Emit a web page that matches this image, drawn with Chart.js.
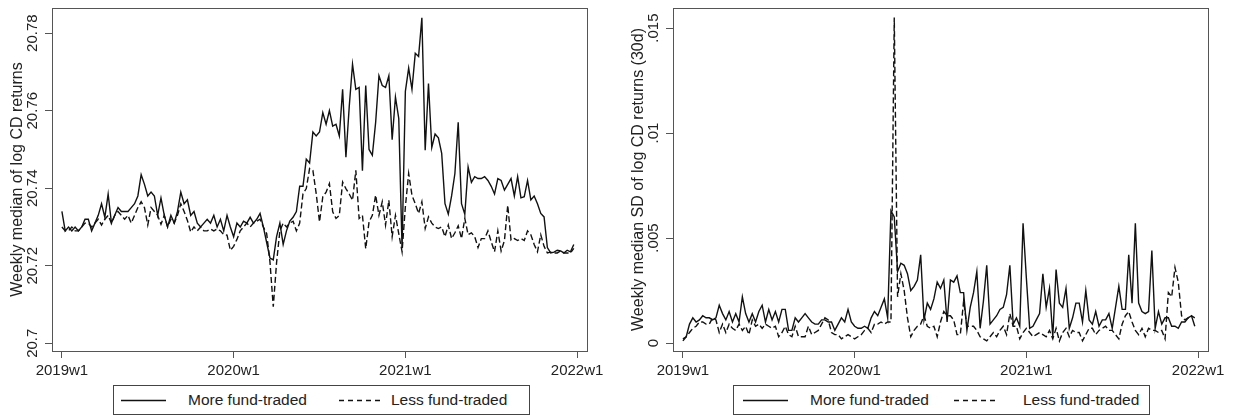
<!DOCTYPE html>
<html>
<head>
<meta charset="utf-8">
<title>Weekly CD returns</title>
<script src="https://cdn.jsdelivr.net/npm/chart.js@4"></script>
<style>
  body { margin: 0; background: #fff; width: 1233px; height: 417px; position: relative; overflow: hidden;
         font-family: "Liberation Sans", Arial, sans-serif; }
  .chartframe { position: absolute; top: 0; }
  .legendbox { position: absolute; top: 385px; height: 30px; width: 417px; border: 1px solid #444;
               box-sizing: border-box; font-size: 15.5px; color: #222; }
  .legendbox span, .legendbox svg { position: absolute; }
  .legendbox span { top: 5px; }
  .legendbox svg { top: 13px; }
</style>
</head>
<body>
  <div class="chartframe" style="left:0px"><canvas id="chartMedian" width="610" height="385"></canvas></div>
  <div class="chartframe" style="left:621px"><canvas id="chartSd" width="610" height="385"></canvas></div>

  <div class="legendbox" style="left:113px">
    <svg style="left:7px" width="45" height="3"><line x1="0" y1="1.5" x2="45" y2="1.5" stroke="#111" stroke-width="1.4"/></svg>
    <span style="left:74px">More fund-traded</span>
    <svg style="left:225px" width="41" height="3"><line x1="0" y1="1.5" x2="41" y2="1.5" stroke="#111" stroke-width="1.4" stroke-dasharray="5,4"/></svg>
    <span style="left:277px">Less fund-traded</span>
  </div>
  <div class="legendbox" style="left:733px">
    <svg style="left:9px" width="45" height="3"><line x1="0" y1="1.5" x2="45" y2="1.5" stroke="#111" stroke-width="1.4"/></svg>
    <span style="left:76px">More fund-traded</span>
    <svg style="left:220px" width="45" height="3"><line x1="0" y1="1.5" x2="45" y2="1.5" stroke="#111" stroke-width="1.4" stroke-dasharray="5,4"/></svg>
    <span style="left:289px">Less fund-traded</span>
  </div>

<script>
//------------------------------------------------------------------------------
// data (weeks 0..155 = 2019w1 .. 2021w52)
//------------------------------------------------------------------------------
const tickWeeks = [0, 52, 104, 156];
const tickLabels = ['2019w1', '2020w1', '2021w1', '2022w1'];

const medTicks = [20.7, 20.72, 20.74, 20.76, 20.78];
const medTickLabels = ['20.7', '20.72', '20.74', '20.76', '20.78'];
const sdTicks = [0, 0.005, 0.01, 0.015];
const sdTickLabels = ['0', '.005', '.01', '.015'];

// weekly median of log CD returns
const medMore = [20.734,20.729,20.730,20.729,20.730,20.729,20.730,20.732,20.732,20.729,
  20.731,20.733,20.736,20.7325,20.7385,20.731,20.733,20.735,20.734,20.734,
  20.734,20.735,20.736,20.738,20.7435,20.741,20.738,20.739,20.738,20.733,
  20.7375,20.733,20.730,20.733,20.731,20.734,20.739,20.736,20.737,20.733,
  20.734,20.731,20.730,20.731,20.732,20.731,20.733,20.730,20.732,20.729,
  20.733,20.730,20.7275,20.731,20.730,20.7315,20.731,20.7325,20.731,20.732,
  20.7335,20.730,20.726,20.722,20.7215,20.7275,20.731,20.7255,20.729,20.7315,
  20.7325,20.734,20.7405,20.7405,20.7475,20.7465,20.7545,20.7535,20.7545,20.7595,
  20.7565,20.760,20.756,20.7565,20.7535,20.7655,20.748,20.761,20.772,20.7655,
  20.766,20.7445,20.7665,20.750,20.7485,20.757,20.769,20.7665,20.766,20.769,
  20.7525,20.7635,20.758,20.7245,20.765,20.771,20.7655,20.7748,20.774,20.784,
  20.7498,20.767,20.7505,20.754,20.753,20.749,20.736,20.7333,20.738,20.7438,
  20.757,20.736,20.7333,20.7455,20.7415,20.743,20.7425,20.7425,20.743,20.742,
  20.7405,20.7385,20.7425,20.742,20.7395,20.741,20.7425,20.738,20.743,20.7375,
  20.7378,20.742,20.737,20.738,20.736,20.7335,20.7326,20.7247,20.7233,20.7235,
  20.724,20.7238,20.7233,20.724,20.7236,20.7255];

const medLess = [20.730,20.729,20.729,20.730,20.729,20.729,20.730,20.731,20.731,20.730,
  20.731,20.732,20.7305,20.732,20.733,20.731,20.733,20.734,20.733,20.732,
  20.733,20.731,20.733,20.735,20.7365,20.735,20.7305,20.735,20.734,20.733,
  20.7307,20.733,20.730,20.732,20.731,20.733,20.736,20.734,20.7317,20.7287,
  20.730,20.729,20.730,20.729,20.729,20.7295,20.729,20.7295,20.729,20.728,
  20.7279,20.724,20.725,20.7268,20.729,20.730,20.731,20.730,20.731,20.7315,
  20.732,20.730,20.7283,20.721,20.7094,20.7208,20.729,20.731,20.730,20.731,
  20.7315,20.729,20.731,20.7386,20.7399,20.7451,20.7446,20.7386,20.7313,20.7378,
  20.739,20.7412,20.7339,20.7322,20.733,20.7416,20.7399,20.7385,20.7369,20.7446,
  20.7322,20.733,20.7244,20.7313,20.733,20.7382,20.733,20.7365,20.7305,20.7369,
  20.7275,20.733,20.7283,20.7236,20.7352,20.7438,20.7382,20.736,20.7335,20.7365,
  20.7296,20.7326,20.731,20.730,20.7296,20.730,20.7275,20.7305,20.727,20.7285,
  20.7303,20.727,20.7322,20.728,20.7285,20.7275,20.7247,20.727,20.727,20.729,
  20.7262,20.7236,20.729,20.7238,20.7265,20.7356,20.7266,20.727,20.7265,20.727,
  20.7265,20.729,20.728,20.7255,20.7236,20.728,20.725,20.7233,20.7235,20.7233,
  20.7233,20.7238,20.7233,20.7233,20.7233,20.7245];

// weekly median SD of log CD returns (30d)
const sdMore = [0.0002,0.0003,0.0009,0.0012,0.0010,0.0011,0.0013,0.0012,0.0012,0.0011,
  0.0012,0.0018,0.0014,0.0011,0.0015,0.0010,0.0014,0.0010,0.0022,0.0014,
  0.0010,0.0014,0.0010,0.0015,0.0018,0.0010,0.0016,0.0011,0.0015,0.0010,
  0.0016,0.0016,0.0006,0.0006,0.0012,0.0010,0.0012,0.0014,0.0012,0.0010,
  0.0009,0.0009,0.0011,0.0011,0.0010,0.0010,0.0006,0.0009,0.0012,0.0010,
  0.0016,0.0010,0.0008,0.0007,0.0007,0.0008,0.0007,0.0012,0.0015,0.0013,
  0.0017,0.0021,0.0012,0.0063,0.0060,0.0034,0.0038,0.0037,0.0033,0.0025,
  0.0027,0.0030,0.0042,0.0011,0.0019,0.0016,0.0021,0.0029,0.0026,0.0030,
  0.0010,0.0030,0.0029,0.0032,0.0024,0.0024,0.0006,0.0017,0.0024,0.0034,
  0.0007,0.0020,0.0037,0.0009,0.0011,0.0013,0.0016,0.0017,0.0023,0.0037,
  0.0009,0.0012,0.0008,0.0057,0.0031,0.0007,0.0008,0.0011,0.0014,0.0033,
  0.0017,0.0026,0.0003,0.0035,0.0019,0.0017,0.0026,0.0007,0.0012,0.0019,
  0.0019,0.0010,0.0025,0.0011,0.0009,0.0015,0.0008,0.0011,0.0011,0.0014,
  0.0007,0.0017,0.0027,0.0016,0.0016,0.0042,0.0019,0.0057,0.0019,0.0015,
  0.0014,0.0015,0.0044,0.0007,0.0015,0.0009,0.0012,0.0012,0.0008,0.0008,
  0.0007,0.0010,0.0010,0.0012,0.0013,0.0008];

const sdLess = [0.0001,0.0003,0.0005,0.0007,0.0008,0.0010,0.0010,0.0009,0.0009,0.0012,
  0.0011,0.0005,0.0009,0.0005,0.0009,0.0007,0.0006,0.0009,0.0006,0.0008,
  0.0004,0.0011,0.0008,0.0009,0.0007,0.0009,0.0008,0.0007,0.0008,0.0003,
  0.0005,0.0008,0.0004,0.0003,0.0008,0.0003,0.0003,0.0003,0.0008,0.0004,
  0.0005,0.0006,0.0009,0.0012,0.0011,0.0005,0.0004,0.0004,0.0002,0.0003,
  0.0004,0.0003,0.0002,0.0003,0.0004,0.0006,0.0007,0.0005,0.0009,0.0009,
  0.0010,0.0009,0.0010,0.0010,0.0155,0.0022,0.0033,0.0025,0.0012,0.0003,
  0.0006,0.0008,0.0009,0.0013,0.0008,0.0007,0.0008,0.0003,0.0010,0.0015,
  0.0013,0.0013,0.0011,0.0004,0.0004,0.0020,0.0008,0.0008,0.0008,0.0006,
  0.0003,0.0002,0.0001,0.0003,0.0005,0.0003,0.0006,0.0008,0.0004,0.0014,
  0.0008,0.0008,0.0002,0.0005,0.0007,0.0005,0.0003,0.0004,0.0005,0.0004,
  0.0003,0.0006,0.0002,0.0007,0.0001,0.0005,0.0007,0.0003,0.0006,0.0005,
  0.0005,0.0001,0.0004,0.0007,0.0007,0.0004,0.0006,0.0007,0.0008,0.0006,
  0.0006,0.0004,0.0002,0.0009,0.0013,0.0015,0.0010,0.0006,0.0004,0.0007,
  0.0003,0.0007,0.0006,0.0006,0.0005,0.0006,0.0002,0.0024,0.0022,0.0036,
  0.0029,0.0013,0.0011,0.0012,0.0013,0.0012];

//------------------------------------------------------------------------------
// helpers
//------------------------------------------------------------------------------
const FONT = '"Liberation Sans", Arial, sans-serif';
const AXIS = '#555';

function toPoints(arr) {
  return arr.map((v, i) => ({ x: i, y: v }));
}

// box around the plot region (Stata style)
const framePlugin = {
  id: 'frame',
  afterDraw(chart) {
    const a = chart.chartArea;
    const c = chart.ctx;
    c.save();
    c.strokeStyle = AXIS;
    c.lineWidth = 1;
    c.strokeRect(Math.round(a.left) + 0.5, Math.round(a.top) + 0.5,
                 Math.round(a.right - a.left), Math.round(a.bottom - a.top));
    c.restore();
  }
};

function makeChart(id, more, less, yTicks, yLabels, yMin, yMax, yPad, title) {
  return new Chart(document.getElementById(id), {
    type: 'line',
    data: {
      datasets: [{
        label: 'More fund-traded',
        data: toPoints(more),
        borderColor: '#111',
        borderWidth: 1.4,
        pointRadius: 0,
        tension: 0
      }, {
        label: 'Less fund-traded',
        data: toPoints(less),
        borderColor: '#111',
        borderWidth: 1.4,
        borderDash: [6, 3],
        pointRadius: 0,
        tension: 0
      }]
    },
    options: {
      responsive: false,
      animation: false,
      devicePixelRatio: 1,
      layout: { padding: { left: 0, right: 23, top: 8, bottom: 0 } },
      plugins: { legend: { display: false }, tooltip: { enabled: false } },
      scales: {
        x: {
          type: 'linear', min: -3, max: 159,
          afterBuildTicks: s => { s.ticks = tickWeeks.map(v => ({ value: v })); },
          afterFit: s => { s.height = 34; },
          ticks: { callback: (v, i) => tickLabels[i], autoSkip: false, maxRotation: 0,
                   font: { family: FONT, size: 15 }, color: '#222', padding: 4 },
          grid: { display: true, drawOnChartArea: false, drawTicks: true, tickLength: 7, color: AXIS },
          border: { display: true, color: AXIS }
        },
        y: {
          min: yMin, max: yMax,
          afterBuildTicks: s => { s.ticks = yTicks.map(v => ({ value: v })); },
          afterFit: s => { s.width = 52; },
          ticks: { callback: (v, i) => yLabels[i], autoSkip: false, minRotation: 90, maxRotation: 90,
                   crossAlign: 'center', padding: yPad,
                   font: { family: FONT, size: 15 }, color: '#222' },
          grid: { display: true, drawOnChartArea: false, drawTicks: true, tickLength: 7, color: AXIS },
          border: { display: true, color: AXIS },
          title: { display: true, text: title, color: '#222',
                   font: { family: FONT, size: 16 }, padding: { top: 8, bottom: 0 } }
        }
      }
    },
    plugins: [framePlugin]
  });
}

//------------------------------------------------------------------------------
// charts
//------------------------------------------------------------------------------
makeChart('chartMedian', medMore, medLess, medTicks, medTickLabels, 20.698, 20.7865, -6.5,
          'Weekly median of log CD returns');
makeChart('chartSd', sdMore, sdLess, sdTicks, sdTickLabels, -0.00038, 0.015955, -2,
          'Weekly median SD of log CD returns (30d)');
</script>
</body>
</html>
